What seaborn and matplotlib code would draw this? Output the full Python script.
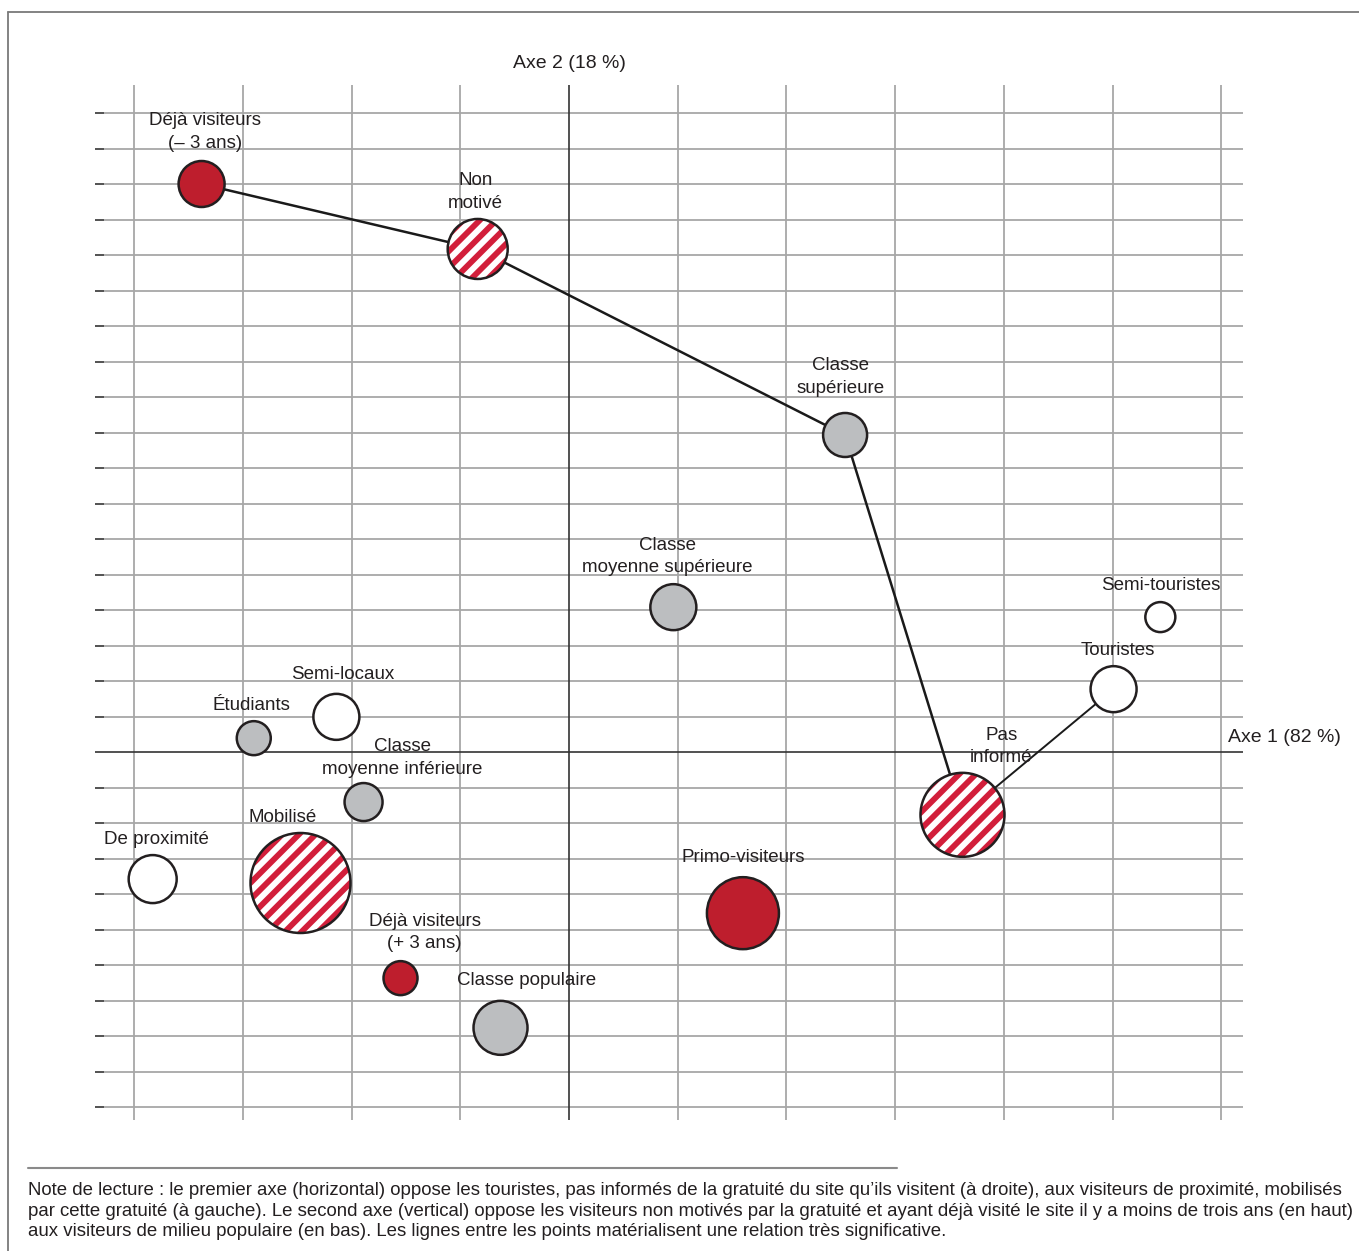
import numpy as np
import pandas as pd
import matplotlib
matplotlib.use("Agg")
import matplotlib.pyplot as plt
from matplotlib.lines import Line2D
import seaborn as sns

# --- donnees (coordonnees en unites de grille) ---
noms = ["Déjà visiteurs\n(– 3 ans)", "Non\nmotivé", "Classe\nsupérieure",
        "Classe\nmoyenne supérieure", "Semi-touristes", "Touristes",
        "Pas\ninformé", "Semi-locaux", "Étudiants", "Classe\nmoyenne inférieure",
        "Mobilisé", "De proximité", "Primo-visiteurs", "Déjà visiteurs\n(+ 3 ans)",
        "Classe populaire"]
axe1 = [-3.38, -0.84, 2.54, 0.96, 5.44, 5.01, 3.62, -2.14, -2.90, -1.89,
        -2.47, -3.83, 1.60, -1.55, -0.63]
axe2 = [16.0, 14.17, 8.93, 4.08, 3.80, 1.77, -1.77, 0.99, 0.39, -1.41,
        -3.69, -3.58, -4.54, -6.37, -7.77]
rayon = [23, 30, 22, 23, 15, 23, 42, 23, 17, 19, 50, 24, 36, 17, 27]
groupe = ["rouge", "hachure", "gris", "gris", "blanc", "blanc", "hachure",
          "blanc", "gris", "gris", "hachure", "blanc", "rouge", "rouge", "gris"]

# decalage des etiquettes (pixels, dx, dy vers le bas)
decal = [(3, -52), (-2, -57), (-5, -58), (-6, -51), (0, -32), (4, -39),
         (39, -68), (6, -42), (-2, -33), (39, -44), (-18, -65), (4, -40),
         (0, -56), (24, -46), (26, -47)]

chaine1 = ["Déjà visiteurs\n(– 3 ans)", "Non\nmotivé", "Classe\nsupérieure", "Pas\ninformé"]
chaine2 = ["Pas\ninformé", "Touristes"]

df = pd.DataFrame({"nom": noms, "x": axe1, "y": axe2, "r": rayon, "groupe": groupe})
df["s"] = (2 * df["r"] * 0.72) ** 2

note = ("Note de lecture : le premier axe (horizontal) oppose les touristes, pas informés de la gratuité du site qu’ils visitent (à droite), aux visiteurs de proximité, mobilisés\n"
        "par cette gratuité (à gauche). Le second axe (vertical) oppose les visiteurs non motivés par la gratuité et ayant déjà visité le site il y a moins de trois ans (en haut)\n"
        "aux visiteurs de milieu populaire (en bas). Les lignes entre les points matérialisent une relation très significative.")

# --- style ---
sns.set_style("white")
plt.rcParams["font.family"] = ["Liberation Sans", "DejaVu Sans"]
plt.rcParams["hatch.linewidth"] = 4.2

W, H = 1359, 1251
ux, uy = 108.7, 35.5
ox, oy = 569, 752

def dx(px):
    return (px - ox) / ux

def dy(py):
    return (oy - py) / uy

fig = plt.figure(figsize=(W / 100, H / 100), dpi=100)
ax = fig.add_axes([95 / W, 1 - 1120 / H, (1243 - 95) / W, (1120 - 85) / H])

grille = "#a7a7a7"
xs = [v for v in range(-4, 7) if v != 0]
ys = [v for v in range(-10, 19) if v != 0]
ax.vlines(xs, dy(1120), dy(85), color=grille, lw=1.3, zorder=1)
ax.hlines(ys, dx(104), dx(1243), color=grille, lw=1.3, zorder=1)
ax.hlines(ys, dx(95), dx(104), color="#444444", lw=1.3, zorder=1)
ax.vlines([0], dy(1120), dy(85), color="#333333", lw=1.2, zorder=2)
ax.hlines([0], dx(95), dx(1243), color="#333333", lw=1.2, zorder=2)

# liens entre les points
c1 = df.set_index("nom").loc[chaine1]
c2 = df.set_index("nom").loc[chaine2]
sns.lineplot(x=c1["x"].values, y=c1["y"].values, sort=False, estimator=None,
             color="#1a1a1a", lw=1.8, ax=ax, zorder=3)
sns.lineplot(x=c2["x"].values, y=c2["y"].values, sort=False, estimator=None,
             color="#1a1a1a", lw=1.4, ax=ax, zorder=3)

couleurs = {"rouge": "#be1e2d", "gris": "#bcbec0", "blanc": "white"}
bord = "#231f20"
for g, c in couleurs.items():
    sub = df[df["groupe"] == g]
    sns.scatterplot(data=sub, x="x", y="y", s=sub["s"].values, facecolor=c,
                    edgecolor=bord, linewidth=1.8, ax=ax, zorder=4, legend=False)

hach = df[df["groupe"] == "hachure"]
sns.scatterplot(data=hach, x="x", y="y", s=hach["s"].values, facecolor="white",
                edgecolor="#d21f3b", linewidth=0, hatch="//", ax=ax, zorder=4, legend=False)
sns.scatterplot(data=hach, x="x", y="y", s=hach["s"].values, facecolor="none",
                edgecolor=bord, linewidth=1.8, ax=ax, zorder=5, legend=False)

for (_, row), (ddx, ddy) in zip(df.iterrows(), decal):
    ax.annotate(row["nom"], xy=(row["x"], row["y"]), xytext=(ddx, -ddy),
                textcoords="offset pixels", ha="center", va="center",
                multialignment="center", fontsize=13.5, color=bord,
                linespacing=1.4, zorder=6)

ax.text(0, dy(63), "Axe 2 (18 %)", ha="center", va="center", fontsize=14, color=bord)
ax.text(dx(1228), dy(737), "Axe 1 (82 %)", ha="left", va="center", fontsize=14, color=bord)

ax.set_xlim(dx(95), dx(1243))
ax.set_ylim(dy(1120), dy(85))
ax.axis("off")

# cadre, filet et note
fig.add_artist(Line2D([8 / W, 8 / W], [0, 1 - 12 / H], color="#7a7a7a", lw=1.3))
fig.add_artist(Line2D([8 / W, 1], [1 - 12 / H, 1 - 12 / H], color="#7a7a7a", lw=1.3))
fig.add_artist(Line2D([28 / W, 897 / W], [1 - 1168 / H] * 2, color="#8a8a8a", lw=1.5))
fig.text(28 / W, 1 - 1211 / H, note, ha="left", va="center", fontsize=13.45,
         color=bord, linespacing=1.27)

fig.savefig("out.png", dpi=100)
